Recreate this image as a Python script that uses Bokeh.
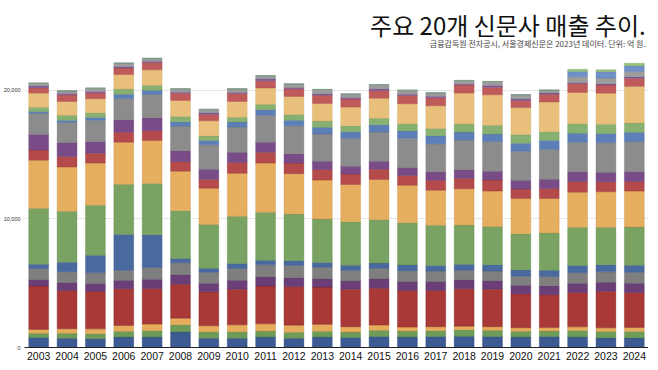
from bokeh.plotting import figure
from bokeh.models import ColumnDataSource, FactorRange, Range1d, Label, FixedTicker, NumeralTickFormatter
from bokeh.embed import file_html
from bokeh.resources import INLINE

# ---- data (억 원) ----
years = ["2003", "2004", "2005", "2006", "2007", "2008", "2009", "2010", "2011", "2012", "2013",
         "2014", "2015", "2016", "2017", "2018", "2019", "2020", "2021", "2022", "2023", "2024"]

s01 = [770, 720, 690, 820, 820, 1210, 720, 720, 820, 720, 820, 770, 850, 820, 850, 870, 850, 820, 850, 820, 740, 740]
s02 = [330, 380, 380, 440, 490, 560, 510, 510, 460, 460, 440, 440, 490, 460, 460, 510, 490, 440, 440, 510, 510, 510]
s03 = [310, 360, 380, 460, 510, 510, 460, 540, 560, 560, 540, 410, 410, 310, 310, 280, 280, 280, 260, 280, 280, 310]
s04 = [3380, 2970, 2920, 2850, 2770, 2640, 2640, 2770, 2950, 3000, 2900, 2920, 2870, 2850, 2820, 2920, 2920, 2640, 2560, 2670, 2850, 2720]
s05 = [510, 620, 620, 670, 720, 720, 670, 690, 690, 670, 640, 640, 720, 690, 690, 670, 640, 670, 690, 720, 690, 720]
s06 = [850, 850, 820, 770, 920, 950, 850, 920, 950, 970, 900, 820, 820, 850, 820, 770, 770, 690, 720, 820, 820, 850]
s07 = [330, 740, 1360, 2790, 2540, 330, 310, 380, 360, 380, 380, 410, 410, 440, 440, 460, 490, 490, 490, 560, 540, 560]
s08 = [4360, 3970, 3900, 3900, 4000, 3720, 3410, 3690, 3740, 3620, 3380, 3380, 3380, 3280, 3130, 3050, 2970, 2820, 2900, 2970, 2920, 2970]
s09 = [3740, 3440, 3280, 3280, 3330, 3080, 2820, 3330, 3820, 3150, 3030, 2900, 3130, 2920, 2720, 2820, 2770, 2740, 2690, 2740, 2770, 2790]
s10 = [790, 820, 770, 770, 770, 740, 690, 850, 850, 820, 820, 820, 790, 770, 770, 820, 850, 740, 770, 820, 770, 740]
s11 = [1210, 1080, 900, 950, 1000, 850, 790, 790, 770, 720, 640, 590, 620, 620, 640, 670, 690, 690, 720, 740, 740, 740]
s12 = [1640, 1560, 1670, 1670, 1820, 1920, 1900, 1970, 2100, 2180, 2130, 2180, 2280, 2280, 2210, 2310, 2310, 2260, 2330, 2330, 2310, 2360]
s13 = [150, 180, 210, 330, 330, 330, 330, 380, 440, 440, 510, 510, 560, 560, 620, 620, 590, 620, 690, 690, 720, 740]
s14 = [330, 380, 360, 410, 380, 410, 360, 380, 410, 440, 490, 460, 510, 560, 560, 620, 670, 670, 670, 740, 720, 720]
s15 = [1100, 1080, 1100, 1130, 1210, 1260, 1180, 1230, 1280, 1410, 1360, 1460, 1560, 1560, 1770, 2410, 2380, 2100, 2330, 2440, 2410, 2850]
s16 = [410, 510, 460, 510, 560, 560, 510, 620, 560, 590, 640, 640, 590, 640, 620, 640, 590, 560, 590, 690, 640, 640]
s17 = [150, 100, 100, 100, 100, 80, 100, 80, 130, 100, 100, 100, 150, 100, 130, 80, 130, 130, 100, 80, 100, 100]
s18 = [210, 210, 260, 280, 230, 260, 280, 280, 260, 280, 360, 280, 310, 310, 260, 260, 310, 310, 230, 440, 440, 410]
s19 = [0, 0, 0, 0, 0, 0, 0, 0, 0, 0, 0, 0, 0, 0, 0, 0, 0, 0, 0, 410, 490, 440]
s20 = [0, 0, 0, 0, 0, 0, 0, 0, 0, 0, 0, 0, 0, 0, 0, 0, 0, 0, 0, 180, 150, 210]

y_ticks = [0, 10000, 20000]
title_text = "주요 20개 신문사 매출 추이."
subtitle_text = "금융감독원 전자공시, 서울경제신문은 2023년 데이터. 단위: 억 원."

keys = ["s01", "s02", "s03", "s04", "s05", "s06", "s07", "s08", "s09", "s10",
        "s11", "s12", "s13", "s14", "s15", "s16", "s17", "s18", "s19", "s20"]
series = [s01, s02, s03, s04, s05, s06, s07, s08, s09, s10,
          s11, s12, s13, s14, s15, s16, s17, s18, s19, s20]

fills = ["#3b5b92", "#6f9b59", "#e5ac5c", "#a83937", "#6b3e78", "#7f7f7f",
         "#486a9f", "#79a263", "#e6ae5f", "#b54a4a", "#794c88", "#8c8c8c",
         "#5c7fb7", "#87b071", "#e9c07b", "#c05b5b", "#80599a", "#9c9c9c",
         "#7090c8", "#95c07d"]
lines = ["#1f3c70", "#557f40", "#c98f3f", "#7e1d1d", "#4f2760", "#666666",
         "#34548a", "#628a4c", "#cc9344", "#963535", "#5f3670", "#747474",
         "#4a6aa0", "#70995a", "#d0a560", "#a44444", "#684585", "#858585",
         "#5a7ab0", "#7ea866"]

data = {"year": years}
for k, s in zip(keys, series):
    data[k] = s
source = ColumnDataSource(data)

Y_END = 26380

p = figure(x_range=FactorRange(*years), y_range=Range1d(0, Y_END),
           frame_width=624, frame_height=339, output_backend="svg", toolbar_location=None,
           min_border_left=0, min_border_right=0, min_border_top=8, min_border_bottom=0,
           outline_line_color=None, background_fill_color="white")

p.vbar_stack(keys, x="year", width=0.7, source=source,
             fill_color=fills, line_color=lines, line_width=0.6, line_alpha=0.6)

p.xgrid.grid_line_color = None
p.ygrid.grid_line_color = "#e6e6e6"
p.ygrid.grid_line_width = 1.2
p.yaxis.ticker = FixedTicker(ticks=y_ticks)
p.ygrid.ticker = FixedTicker(ticks=y_ticks)
p.yaxis.formatter = NumeralTickFormatter(format="0,0")
p.yaxis.axis_line_color = None
p.yaxis.major_tick_line_color = None
p.yaxis.minor_tick_line_color = None
p.yaxis.major_tick_out = 0
p.yaxis.major_tick_in = 0
p.yaxis.minor_tick_out = 0
p.yaxis.minor_tick_in = 0
p.yaxis.major_label_text_font_size = "5.5px"
p.yaxis.major_label_text_color = "#333333"
p.yaxis.major_label_text_font = "Liberation Sans"
p.yaxis.major_label_standoff = 4

p.xaxis.axis_line_color = "#222222"
p.xaxis.axis_line_width = 1
p.xaxis.major_tick_line_color = None
p.xaxis.minor_tick_line_color = None
p.xaxis.major_tick_out = 0
p.xaxis.major_tick_in = 0
p.xaxis.minor_tick_out = 0
p.xaxis.minor_tick_in = 0
p.xaxis.major_label_text_font_size = "10.5px"
p.xaxis.major_label_text_font = "Liberation Sans"
p.xaxis.major_label_text_color = "#111111"
p.xaxis.major_label_standoff = 4

p.add_layout(Label(x=21.9, y=25140, text=title_text, text_align="right", text_baseline="middle",
                   text_font="Noto Sans CJK KR", text_font_size="24px", text_color="#111111"))
p.add_layout(Label(x=21.9, y=23620, text=subtitle_text, text_align="right", text_baseline="middle",
                   text_font="Noto Sans CJK KR", text_font_size="8px", text_color="#444444"))

open("out.html", "w").write(file_html(p, INLINE))
